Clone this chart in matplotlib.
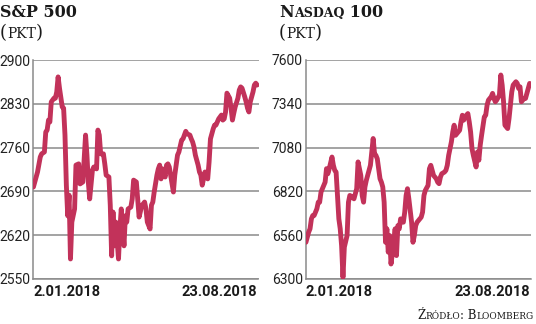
import matplotlib
matplotlib.use("Agg")
import matplotlib.pyplot as plt
from matplotlib.transforms import IdentityTransform

# sesje od 2.01.2018 (0) do 23.08.2018 (163)
sp_days = [0, 3, 5, 6, 8, 9, 10, 11, 12, 13, 15, 16, 17, 18, 19, 21, 22, 23, 24, 25,
           26, 27, 28, 30, 31, 33, 34, 36, 38, 39, 40, 41, 43, 44, 46, 47, 48, 49, 51, 52,
           53, 55, 56, 57, 58, 59, 60, 62, 63, 64, 66, 67, 68, 69, 71, 72, 73, 75, 76, 77,
           79, 80, 81, 82, 83, 85, 86, 87, 88, 90, 91, 92, 93, 94, 96, 97, 98, 99, 100, 102,
           103, 104, 105, 106, 108, 109, 110, 111, 112, 114, 115, 116, 117, 118, 120, 121, 122, 123, 125, 126,
           127, 128, 129, 131, 132, 133, 134, 135, 137, 138, 139, 140, 141, 143, 144, 145, 146, 147, 149, 150,
           151, 152, 154, 155, 156, 157, 158, 160, 161, 162, 163]
sp_vals = [2697, 2721, 2745, 2750, 2753, 2785, 2788, 2804, 2801, 2833, 2839, 2839, 2849, 2873, 2855, 2825, 2823, 2780, 2700, 2651,
           2684, 2582, 2641, 2662, 2732, 2734, 2702, 2705, 2780, 2748, 2705, 2678, 2724, 2729, 2726, 2788, 2780, 2750, 2750, 2734,
           2716, 2713, 2668, 2587, 2657, 2603, 2641, 2582, 2630, 2662, 2603, 2651, 2641, 2662, 2665, 2678, 2708, 2705, 2678, 2649,
           2668, 2670, 2673, 2662, 2641, 2630, 2668, 2673, 2689, 2716, 2726, 2732, 2710, 2726, 2713, 2732, 2734, 2729, 2716, 2689,
           2716, 2732, 2748, 2753, 2772, 2774, 2780, 2786, 2782, 2780, 2774, 2769, 2761, 2748, 2732, 2721, 2716, 2700, 2721, 2716,
           2710, 2737, 2774, 2790, 2796, 2796, 2801, 2806, 2812, 2804, 2806, 2817, 2847, 2839, 2823, 2804, 2815, 2825, 2839, 2852,
           2857, 2855, 2841, 2833, 2823, 2817, 2833, 2849, 2860, 2863, 2860]

ndx_days = [0, 2, 3, 4, 5, 6, 8, 9, 10, 11, 12, 14, 15, 16, 17, 19, 20, 21, 22, 23,
            24, 25, 26, 27, 28, 30, 31, 32, 34, 35, 37, 38, 40, 41, 42, 43, 44, 45, 47, 48,
            49, 50, 51, 52, 54, 55, 56, 57, 58, 59, 60, 61, 62, 64, 65, 66, 67, 68, 69, 71,
            72, 73, 74, 75, 77, 78, 79, 80, 81, 84, 85, 86, 87, 89, 90, 91, 92, 93, 95, 96,
            97, 98, 99, 101, 102, 103, 104, 106, 107, 108, 109, 110, 112, 113, 114, 115, 116, 118, 119, 120,
            121, 122, 124, 125, 126, 127, 128, 130, 131, 132, 133, 135, 136, 137, 138, 139, 141, 142, 143, 144,
            145, 147, 148, 149, 150, 151, 153, 154, 155, 156, 157, 159, 160, 161, 162, 163]
ndx_vals = [6518, 6578, 6598, 6657, 6677, 6677, 6717, 6756, 6756, 6816, 6836, 6875, 6955, 6925, 6955, 7024, 6975, 6945, 6935, 6796,
            6657, 6598, 6498, 6310, 6489, 6558, 6756, 6796, 6786, 6776, 6836, 6995, 6915, 6796, 6756, 6846, 6885, 6915, 6975, 7054,
            7134, 7044, 7034, 7014, 6895, 6875, 6846, 6756, 6518, 6598, 6459, 6558, 6389, 6518, 6598, 6439, 6617, 6598, 6657, 6637,
            6697, 6796, 6836, 6776, 6637, 6518, 6558, 6617, 6637, 6667, 6697, 6796, 6826, 6856, 6955, 6975, 6945, 6915, 6895, 6875,
            6866, 6905, 6925, 6935, 6945, 6975, 7034, 7114, 7173, 7213, 7153, 7163, 7183, 7233, 7272, 7243, 7263, 7282, 7233, 7173,
            7074, 7034, 6965, 7054, 7005, 7094, 7153, 7263, 7272, 7332, 7362, 7382, 7402, 7372, 7352, 7362, 7392, 7511, 7451, 7352,
            7213, 7193, 7253, 7332, 7411, 7451, 7471, 7461, 7431, 7441, 7352, 7372, 7372, 7402, 7431, 7461]

sp_ticks = [2550, 2620, 2690, 2760, 2830, 2900]
ndx_ticks = [6300, 6560, 6820, 7080, 7340, 7600]
date_labels = ["2.01.2018", "23.08.2018"]

LINE = "#c2325a"
GRID = "#8a8a8a"
SERIF = "DejaVu Serif"
SANS = ["Roboto", "DejaVu Sans"]

fig = plt.figure(figsize=(5.36, 3.24), dpi=100)
renderer = fig.canvas.get_renderer()
H = 324


def caps_text(x, y, parts, ha="left", color="#1a1a1a"):
    # parts: (tekst, rozmiar, gruby) - imitacja kapitalikow
    objs = []
    for s, size, bold in parts:
        t = fig.text(0, H - y, s, transform=IdentityTransform(), fontsize=size,
                     family=SERIF, weight="bold" if bold else "normal",
                     color=color, va="baseline", ha="left")
        objs.append(t)
    widths = [t.get_window_extent(renderer).width for t in objs]
    start = x if ha == "left" else x - sum(widths)
    for t, w in zip(objs, widths):
        t.set_x(start)
        start += w


def panel(left, values, days, ticks):
    ax = fig.add_axes([left / 536, 45 / 324, 225.5 / 536, 219 / 324])
    ax.plot(days, values, color=LINE, lw=3.5, solid_joinstyle="round",
            solid_capstyle="round", zorder=3)
    ax.set_ylim(ticks[0], ticks[-1])
    ax.set_xlim(-0.3, 164)
    ax.set_yticks(ticks)
    ax.yaxis.grid(True, color=GRID, lw=1.1)
    ax.set_axisbelow(True)
    for side in ["top", "right"]:
        ax.spines[side].set_visible(False)
    for side in ["left", "bottom"]:
        ax.spines[side].set_color(GRID)
        ax.spines[side].set_linewidth(1.1)
    ax.tick_params(axis="y", length=0, pad=2, labelsize=10, labelcolor="#222222")
    for lab in ax.get_yticklabels():
        lab.set_family(SANS)
    ax.set_xticks([days[0], days[-1]])
    ax.set_xticklabels(date_labels, family=SANS, weight="bold", fontsize=10.5, color="#1a1a1a")
    ax.tick_params(axis="x", length=0, pad=4)
    labs = ax.get_xticklabels()
    labs[0].set_ha("left")
    labs[1].set_ha("right")
    return ax


panel(33, sp_vals, sp_days, sp_ticks)
panel(305.5, ndx_vals, ndx_days, ndx_ticks)

caps_text(0, 17, [("S&P 500", 11.5, True)])
caps_text(0, 38, [("(", 13, False), ("PKT", 10, False), (")", 13, False)])
caps_text(279, 17, [("N", 11.5, True), ("ASDAQ", 9, True), (" 100", 11.5, True)])
caps_text(279, 38, [("(", 13, False), ("PKT", 10, False), (")", 13, False)])
caps_text(534, 319, [("Ź", 8.5, False), ("RÓDŁO", 6.5, False), (": B", 8.5, False),
                     ("LOOMBERG", 6.5, False)], ha="right")

fig.savefig("out.png", dpi=100)
